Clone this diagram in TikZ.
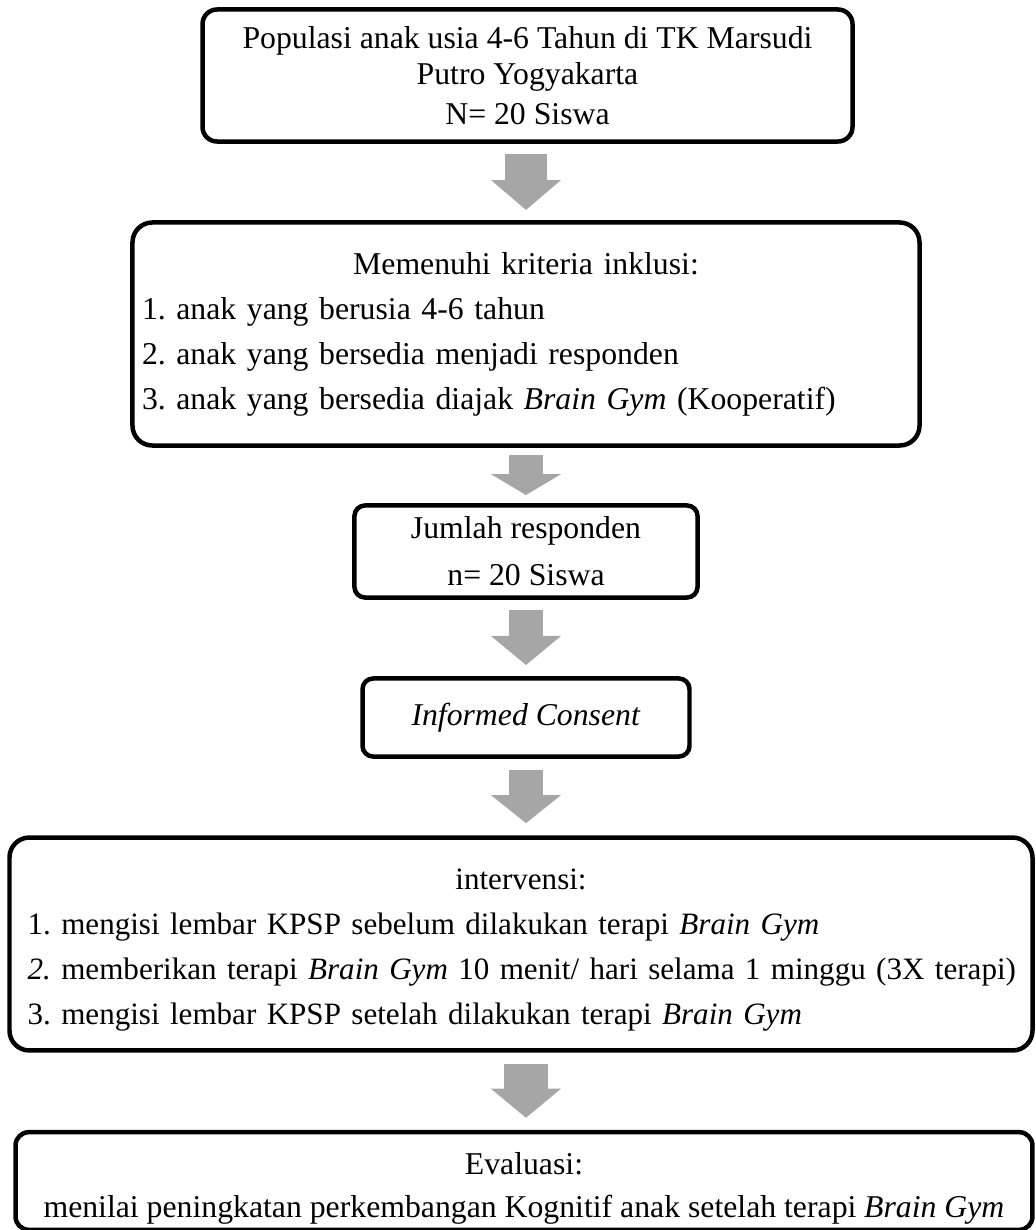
\documentclass[tikz,border=0pt]{standalone}
\usepackage{fontspec}
\setmainfont{Liberation Serif}
\usetikzlibrary{arrows.meta}
\definecolor{arrowgray}{RGB}{166,166,166}
\frenchspacing

\begin{document}
\begin{tikzpicture}[x=0.378pt, y=-0.378pt,
  flowbox/.style={draw, line width=1.7pt, inner sep=0pt,
    execute at begin node={\setlength{\parindent}{0pt}},
    font=\fontsize{12pt}{17pt}\selectfont},
  flowarrow/.style 2 args={draw=arrowgray, line width=#1,
    -{Triangle[length=#2, width=26.5pt, line width=0pt]}}]
  \useasboundingbox (0,0) rectangle (1036,1230);

  % boxes
  \node[flowbox, rounded corners=5.5pt, minimum width=245.7pt, minimum height=49.9pt,
    align=center, font=\fontsize{12pt}{13.6pt}\selectfont] (pop) at (527.5,75.5)
    {Populasi anak usia 4-6 Tahun di TK Marsudi\\ Putro Yogyakarta\\[1.5pt] N= 20 Siswa};
  \node[flowbox, rounded corners=7.5pt, minimum width=297.5pt, minimum height=84.3pt,
    text width=290.3pt, align=left] (krit) at (526,334)
    {{\centering Memenuhi kriteria inklusi:\par}
     1. anak yang berusia 4-6 tahun\\
     2. anak yang bersedia menjadi responden\\
     3. anak yang bersedia diajak \textit{Brain Gym} (Kooperatif)};
  \node[flowbox, rounded corners=4pt, minimum width=129.7pt, minimum height=34.8pt,
    align=center, font=\fontsize{12pt}{17.8pt}\selectfont] (jml) at (526,551.5)
    {Jumlah responden\\ n= 20 Siswa};
  \node[flowbox, rounded corners=4pt, minimum width=123.6pt, minimum height=29.5pt]
    (ic) at (526,717.5) {\textit{Informed Consent}};
  \node[flowbox, rounded corners=7.5pt, minimum width=386.7pt, minimum height=80.5pt,
    text width=373pt, align=left, font=\fontsize{11.75pt}{17pt}\selectfont] (intv) at (521,944)
    {{\centering\rule{0pt}{12.3pt}intervensi:\par}
     1. mengisi lembar KPSP sebelum dilakukan terapi \textit{Brain Gym}\\
     \mbox{\textit{2.} memberikan terapi \textit{Brain Gym} 10 menit/ hari selama 1 minggu (3X terapi)}\\
     3. mengisi lembar KPSP setelah dilakukan terapi \textit{Brain Gym}};
  \node[flowbox, rounded corners=5pt, minimum width=384.4pt, minimum height=36.9pt,
    align=center, font=\fontsize{12pt}{16.3pt}\selectfont] (eval) at (524,1181)
    {\rule{0pt}{14pt}Evaluasi:\\ menilai peningkatan perkembangan Kognitif anak setelah terapi \textit{Brain Gym}};

  % arrows
  \draw[flowarrow={15.9pt}{11.3pt}] ([yshift=-3.9pt]pop.south -| ic.south)
    -- ([yshift=3.9pt]krit.north -| ic.south);
  \draw[flowarrow={12.9pt}{7.9pt}] ([yshift=-2.7pt]krit.south -| ic.south)
    -- ([yshift=3.1pt]jml.north);
  \draw[flowarrow={12.9pt}{11pt}] ([yshift=-3.9pt]jml.south)
    -- ([yshift=4.25pt]ic.north);
  \draw[flowarrow={12.9pt}{10.6pt}] ([yshift=-4.25pt]ic.south)
    -- ([yshift=4.6pt]intv.north -| ic.south);
  \draw[flowarrow={16.3pt}{11pt}] ([yshift=-4.25pt]intv.south -| ic.south)
    -- ([yshift=4.6pt]eval.north -| ic.south);
\end{tikzpicture}
\end{document}
